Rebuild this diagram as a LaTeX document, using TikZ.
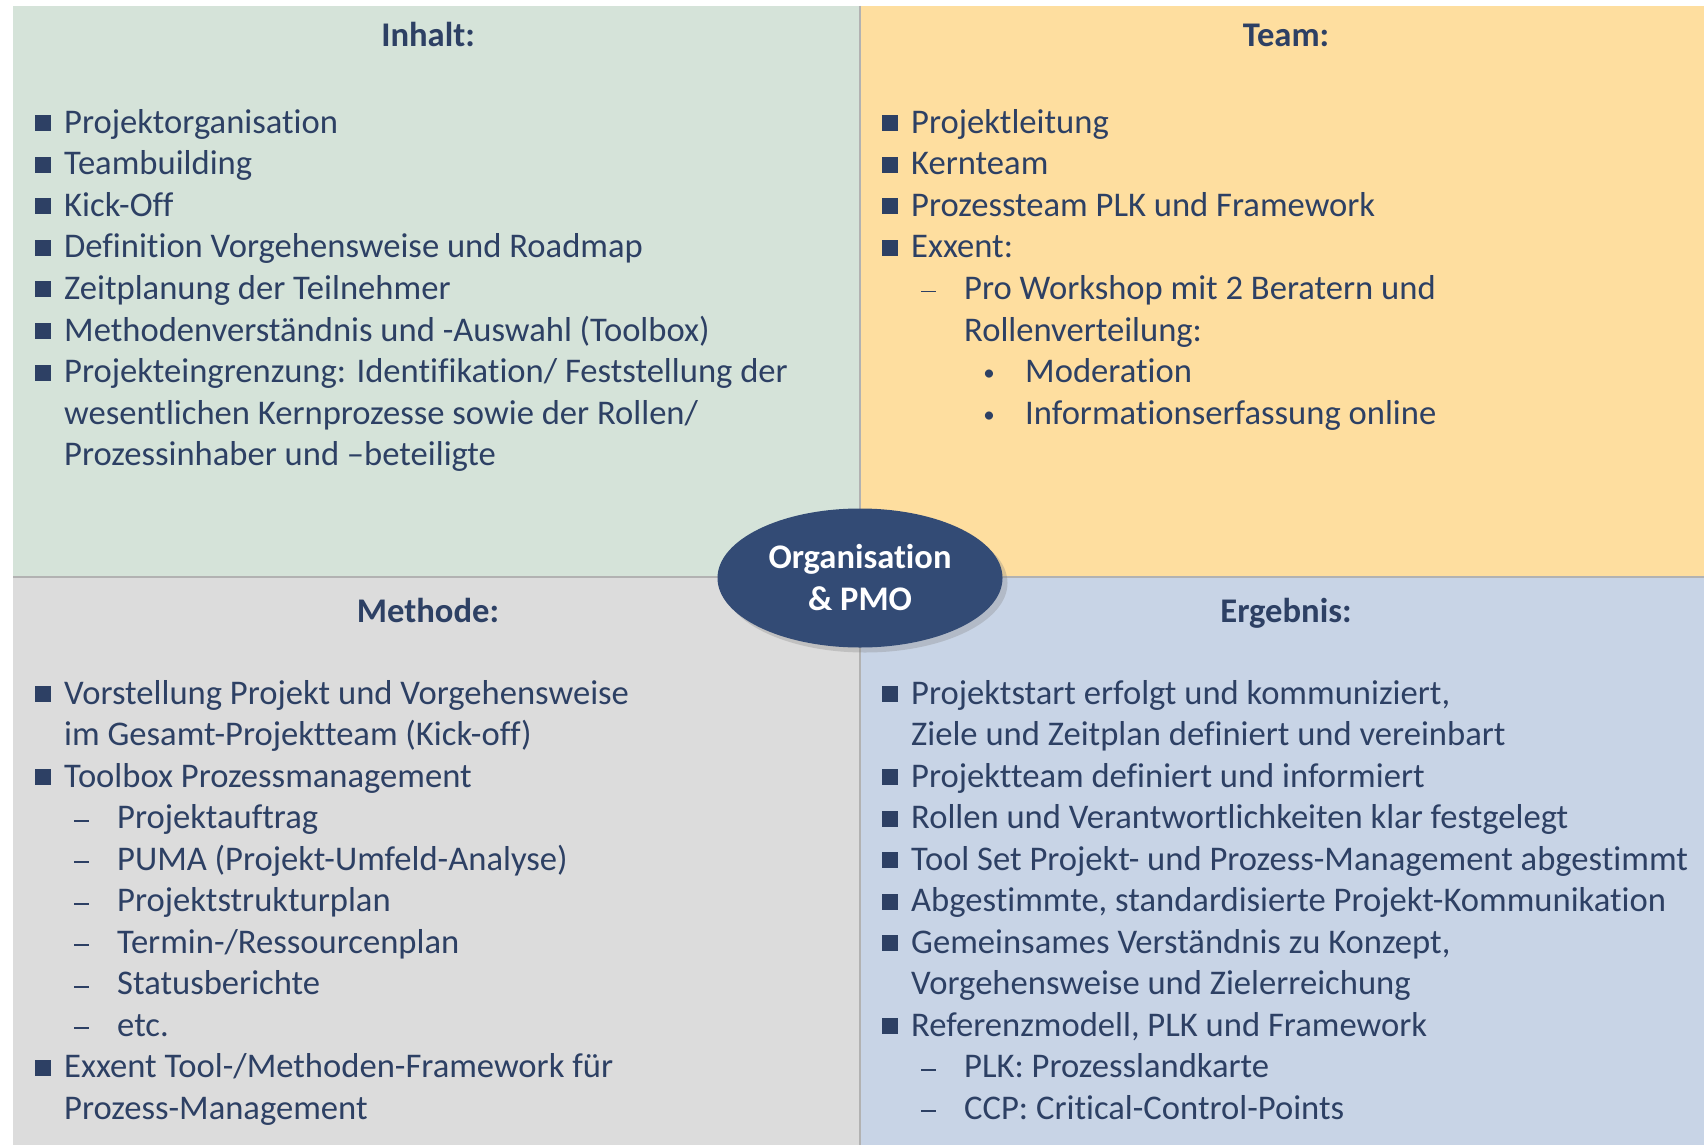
\documentclass[tikz,border=0pt]{standalone}
\usepackage{fontspec}
\setmainfont{Carlito}[Ligatures=CommonOff]
\usepackage{tikz}
\usetikzlibrary{shapes.geometric,shadows}
\definecolor{inhaltbg}{HTML}{D5E3D9}
\definecolor{teambg}{HTML}{FEDE9F}
\definecolor{methodebg}{HTML}{DCDCDC}
\definecolor{ergebnisbg}{HTML}{C8D4E6}
\definecolor{ink}{HTML}{2D4064}
\definecolor{pmo}{HTML}{334B75}
\newcommand{\itemfont}{\fontsize{34.6}{41.6}\selectfont}
\tikzset{
  txt/.style={anchor=base west, inner sep=0pt, font=\itemfont, text=ink},
  head/.style={anchor=base, inner sep=0pt, font=\itemfont\bfseries, text=ink},
  lvs/.style={txt, xshift=51pt, execute at begin node={\llap{\rule[2pt]{16pt}{16pt}\hspace{13pt}}}},
  lvc/.style={txt, xshift=51pt},
  lvd/.style={txt, xshift=104pt, execute at begin node={\llap{\rule[7pt]{15pt}{1.6pt}\hspace{28pt}}}},
  lve/.style={txt, xshift=104pt},
  lvp/.style={txt, xshift=165pt, execute at begin node={\llap{\makebox[0pt]{\raisebox{2pt}{\fontsize{23}{23}\selectfont•}}\hspace{36pt}}}},
  divider/.style={line width=1.5pt, black!30}}
\begin{document}
\begin{tikzpicture}[x=1pt, y=-1pt]
  \useasboundingbox[fill=white] (0,0) rectangle (1704,1145);
  % four panels
  \fill[inhaltbg] (13,6) rectangle (860,577);
  \fill[teambg] (860,6) rectangle (1704,577);
  \fill[methodebg] (13,577) rectangle (860,1145);
  \fill[ergebnisbg] (860,577) rectangle (1704,1145);
  \draw[divider] (13,577) -- (1704,577);
  \draw[divider] (860,6) -- (860,1145);
  % headings
  \node[head] (inhalt) at (428,47) {Inhalt:};
  \node[head] (team) at (1286,47) {Team:};
  \node[head] (methode) at (428,622) {Methode:};
  \node[head] (ergebnis) at (1286,622) {Ergebnis:};
  % lists
  \foreach \lv/\t [count=\i from 0] in {lvs/Projektorganisation, lvs/Teambuilding, lvs/Kick-Off,
      lvs/Definition Vorgehensweise und Roadmap, lvs/Zeitplanung der Teilnehmer,
      lvs/Methodenverständnis und -Auswahl (Toolbox),
      lvs/{Projekteingrenzung: Identifikation/ Feststellung der},
      lvc/{wesentlichen Kernprozesse sowie der Rollen/}, lvc/Prozessinhaber und –beteiligte}
    \node[\lv] (inh\i) at (13,133+41.6*\i) {\t};
  \foreach \lv/\t [count=\i from 0] in {lvs/Projektleitung, lvs/Kernteam,
      lvs/Prozessteam PLK und Framework, lvs/Exxent:,
      lvd/Pro Workshop mit 2 Beratern und, lve/Rollenverteilung:,
      lvp/Moderation, lvp/Informationserfassung online}
    \node[\lv] (tea\i) at (860,133+41.6*\i) {\t};
  \foreach \lv/\t [count=\i from 0] in {lvs/Vorstellung Projekt und Vorgehensweise,
      lvc/im Gesamt-Projektteam (Kick-off), lvs/Toolbox Prozessmanagement,
      lvd/Projektauftrag, lvd/PUMA (Projekt-Umfeld-Analyse), lvd/Projektstrukturplan,
      lvd/{Termin-/Ressourcenplan}, lvd/Statusberichte, lvd/etc.,
      lvs/{Exxent Tool-/Methoden-Framework für}, lvc/Prozess-Management}
    \node[\lv] (met\i) at (13,704+41.5*\i) {\t};
  \foreach \lv/\t [count=\i from 0] in {lvs/{Projektstart erfolgt und kommuniziert,},
      lvc/Ziele und Zeitplan definiert und vereinbart, lvs/Projektteam definiert und informiert,
      lvs/Rollen und Verantwortlichkeiten klar festgelegt,
      lvs/Tool Set Projekt- und Prozess-Management abgestimmt,
      lvs/{Abgestimmte, standardisierte Projekt-Kommunikation},
      lvs/{Gemeinsames Verständnis zu Konzept,}, lvc/Vorgehensweise und Zielerreichung,
      lvs/{Referenzmodell, PLK und Framework}, lvd/PLK: Prozesslandkarte,
      lvd/CCP: Critical-Control-Points}
    \node[\lv] (erg\i) at (860,704+41.5*\i) {\t};
  % centre
  \node[ellipse, minimum width=285pt, minimum height=139pt, inner sep=0pt, fill=pmo,
    text=white, font=\fontsize{34.5}{42}\selectfont\bfseries, align=center,
    drop shadow={shadow xshift=5pt, shadow yshift=-5pt, opacity=0.3}] (org) at (860,578)
    {Organisation\\\& PMO};
\end{tikzpicture}
\end{document}
